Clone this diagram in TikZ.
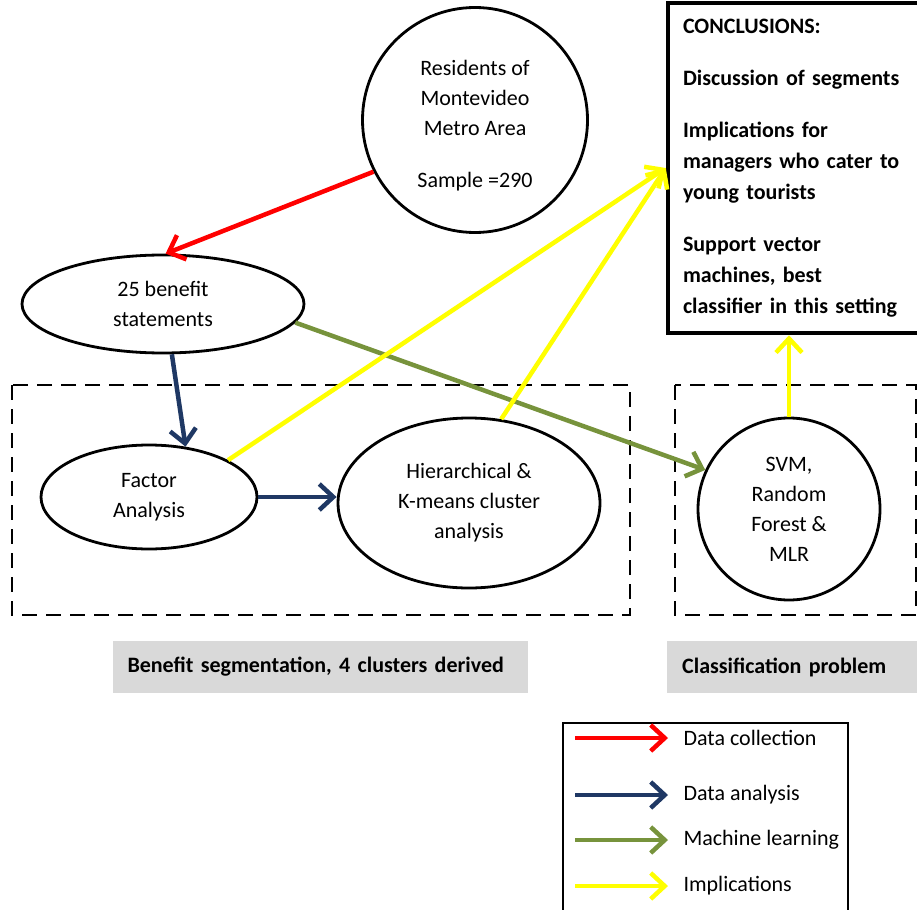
\documentclass[tikz,border=0pt]{standalone}
\usepackage{fontspec}
\setmainfont{Carlito}
\usetikzlibrary{arrows.meta,shapes.geometric}
\definecolor{collectRed}{RGB}{255,0,0}
\definecolor{analysisBlue}{RGB}{31,56,100}
\definecolor{learnGreen}{RGB}{119,147,60}
\definecolor{implYellow}{RGB}{255,255,0}

\begin{document}
\begin{tikzpicture}[x=1pt,y=-1pt,
  every node/.style={font=\fontsize{22}{30}\selectfont},
  bubble/.style={draw,line width=2.8pt,ellipse,align=center,inner sep=0pt},
  ball/.style={draw,line width=2.8pt,circle,align=center,inner sep=0pt},
  zone/.style={draw,line width=2.8pt,dash pattern=on 15pt off 9pt},
  tag/.style={fill=black!15,minimum height=52pt,align=left,inner xsep=15pt,font=\fontsize{22}{30}\selectfont\bfseries},
  flow/.style={line width=4.5pt,-{Straight Barb[length=14pt,width=26pt]}}]
\useasboundingbox (0,0) rectangle (917,909);

\draw[zone] (12,385) rectangle (630,615);
\draw[zone] (675,385) rectangle (916,615);

\node[ball,minimum size=225pt] (res) at (475,120) {\rule{0pt}{26pt}Residents of\\Montevideo\\Metro Area\\[22pt]Sample =290};
\node[bubble,minimum width=282pt,minimum height=98pt] (ben) at (163,304) {25 benefit\\statements};
\node[bubble,minimum width=216pt,minimum height=104pt] (fa) at (149,497) {Factor\\Analysis};
\node[bubble,minimum width=262pt,minimum height=170pt] (hc) at (469,503) {Hierarchical \&\\K-means cluster\\analysis};
\node[ball,minimum size=182pt] (svm) at (789,509) {SVM,\\Random\\Forest \&\\MLR};
\node[draw,line width=4.5pt,minimum width=252pt,minimum height=330pt,text width=222pt,inner xsep=15pt,align=left,
  font=\fontsize{22}{31}\selectfont\bfseries] (concl) at (794,168)
  {CONCLUSIONS:\\[21pt]Discussion of segments\\[21pt]Implications for\\managers who cater to\\young tourists\\[21pt]Support vector\\machines, best\\classifier in this setting};

\node[tag,minimum width=415pt,text width=385pt] (segtag) at (320,667) {Benefit segmentation, 4 clusters derived};
\node[tag,minimum width=262pt,text width=232pt,anchor=west] (clstag) at (667,667) {Classification problem};

\draw[flow,collectRed] (res.207) -- (ben.87);
\draw[flow,analysisBlue] (ben.280) -- (fa.54);
\draw[flow,analysisBlue] (fa.east) -- (fa.east -| hc.west);
\draw[flow,learnGreen] (ben.-8) -- (svm.155);
\draw[flow,implYellow] (fa.25) -- (concl.west);
\draw[flow,implYellow] (hc.69) -- (concl.west);
\draw[flow,implYellow] (svm.north) -- (svm.north |- concl.south);

\draw[line width=1.5pt] (563,723) rectangle (848,925);
\node[anchor=west] (lgcollect) at (680,738) {Data collection};
\node[anchor=west] (lganalysis) at (680,795) {Data analysis};
\node[anchor=west] (lglearn) at (680,840) {Machine learning};
\node[anchor=west] (lgimpl) at (680,886) {Implications};
\coordinate (k1) at (575,738);
\coordinate (k2) at (575,795);
\coordinate (k3) at (575,840);
\coordinate (k4) at (575,886);
\draw[flow,collectRed,shorten >=12pt] (k1) -- (k1 -| lgcollect.west);
\draw[flow,analysisBlue,shorten >=12pt] (k2) -- (k2 -| lganalysis.west);
\draw[flow,learnGreen,shorten >=12pt] (k3) -- (k3 -| lglearn.west);
\draw[flow,implYellow,shorten >=12pt] (k4) -- (k4 -| lgimpl.west);
\end{tikzpicture}
\end{document}
